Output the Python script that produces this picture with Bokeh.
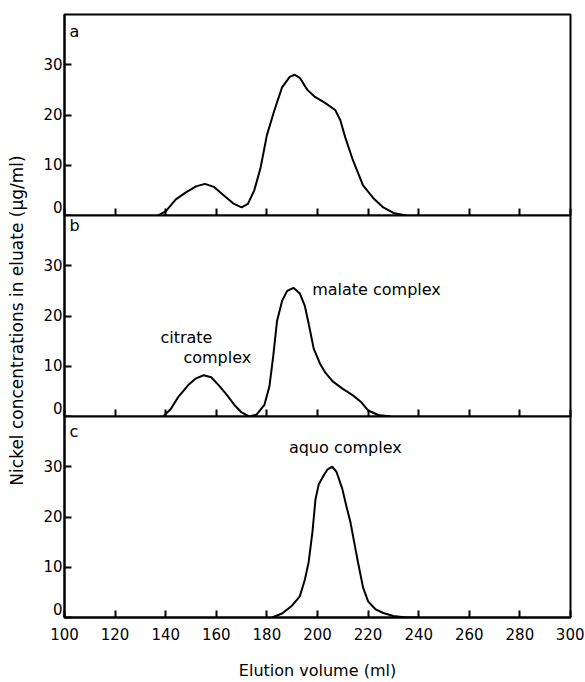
import numpy as np
from bokeh.plotting import figure
from bokeh.layouts import column, row
from bokeh.models import Range1d, FixedTicker, Label, CustomLabelingPolicy
from bokeh.embed import file_html
from bokeh.resources import INLINE

# ---- data ----
x_a = [137, 140, 144, 148, 152, 155.5, 159, 163, 167, 170, 172.5, 175, 177.5, 180, 183, 186,
       189, 191, 193, 196, 199, 203, 207, 209, 211, 214, 218, 222, 226, 230, 235]
y_a = [0, 0.8, 3.2, 4.6, 5.8, 6.3, 5.7, 4.0, 2.3, 1.6, 2.3, 5.0, 9.5, 16, 21, 25.5,
       27.6, 28, 27.4, 25, 23.6, 22.4, 21, 19, 15.5, 11, 6, 3.5, 1.6, 0.5, 0]

x_b = [139, 142, 145, 149, 152, 155, 158, 161, 164, 167, 170, 173, 176, 179, 181, 182.5, 184,
       186, 188, 190.5, 193, 195, 196.5, 198.5, 201, 203, 206, 210, 214, 217, 220, 224, 229]
y_b = [0, 1.5, 3.9, 6.3, 7.6, 8.2, 7.8, 6.2, 4.4, 2.4, 0.8, 0, 0.4, 2.3, 6, 12, 19,
       23, 25, 25.6, 24.5, 22, 18.5, 13.5, 10.5, 8.8, 7, 5.5, 4.2, 3.0, 1.2, 0.3, 0]

x_c = [182, 186, 190, 193, 195, 196.5, 198, 199.2, 200.5, 202.5, 204, 205.8, 207.5, 209.8,
       211.5, 213, 214.5, 216, 218, 220, 223, 226, 230, 235, 240]
y_c = [0, 0.8, 2.4, 4.2, 7.5, 11, 17, 23.5, 26.5, 28.3, 29.5, 30, 29, 25.6,
       22, 19, 15, 11, 6, 3.2, 1.6, 0.9, 0.3, 0, 0]

x_ticks = [100, 120, 140, 160, 180, 200, 220, 240, 260, 280, 300]
y_ticks = [0, 10, 20, 30]

panel_letters = ["a", "b", "c"]
x_label = "Elution volume (ml)"
y_label = "Nickel concentrations in eluate (\u03bcg/ml)"

FONT = "DejaVu Sans"
FW = 506
FH = 201
OVER = 16   # bottom room for the zero label, overlapped by the next panel

no_labels = CustomLabelingPolicy(code="return new Set()")


def make_panel(xs, ys, letter, letter_y, top, bottom):
    p = figure(output_backend="svg", toolbar_location=None,
               frame_width=FW, frame_height=FH,
               x_range=Range1d(100, 300), y_range=Range1d(0, 40),
               min_border_left=28, min_border_right=14,
               min_border_top=top, min_border_bottom=0 if bottom else OVER)
    p.grid.visible = False
    p.outline_line_color = "black"
    p.outline_line_width = 2
    p.outline_line_alpha = 1
    p.background_fill_color = "white"
    p.border_fill_color = None

    p.line(xs, ys, line_color="black", line_width=2)

    xa = p.xaxis[0]
    xa.ticker = FixedTicker(ticks=x_ticks, minor_ticks=[])
    xa.major_tick_in = 7
    xa.major_tick_out = 0
    xa.minor_tick_in = 0
    xa.minor_tick_out = 0
    xa.axis_line_width = 2
    xa.major_tick_line_width = 2
    xa.axis_line_color = "black"
    xa.major_tick_line_color = "black"
    if bottom:
        xa.major_label_text_font = FONT
        xa.major_label_text_font_size = "15px"
        xa.major_label_text_color = "black"
        xa.major_label_standoff = 10
        xa.axis_label = x_label
        xa.axis_label_text_font = FONT
        xa.axis_label_text_font_size = "16px"
        xa.axis_label_text_font_style = "normal"
        xa.axis_label_text_color = "black"
        xa.axis_label_standoff = 18
    else:
        xa.major_label_text_font_size = "0px"
        xa.major_label_standoff = 0
        xa.major_label_policy = no_labels

    ya = p.yaxis[0]
    ya.ticker = FixedTicker(ticks=y_ticks, minor_ticks=[])
    ya.major_tick_in = 7
    ya.major_tick_out = 0
    ya.minor_tick_in = 0
    ya.minor_tick_out = 0
    ya.axis_line_width = 2
    ya.major_tick_line_width = 2
    ya.axis_line_color = "black"
    ya.major_tick_line_color = "black"
    ya.major_label_text_font = FONT
    ya.major_label_text_font_size = "15px"
    ya.major_label_text_color = "black"
    ya.major_label_standoff = 2
    # the zero label sits just above the axis line, as in the reference
    ya.major_label_overrides = {y_ticks[0]: str(y_ticks[0]) + "\n"}
    ya.major_label_text_line_height = 0.8

    p.add_layout(Label(x=102, y=letter_y, text=letter, text_font=FONT,
                       text_font_size="16px", text_color="black",
                       text_baseline="alphabetic", text_align="left"))
    return p


pa = make_panel(x_a, y_a, panel_letters[0], 36.6, 14, False)
pb = make_panel(x_b, y_b, panel_letters[1], 38.0, 0, False)
pc = make_panel(x_c, y_c, panel_letters[2], 37.0, 0, True)
pb.margin = (-OVER, 0, 0, 0)
pc.margin = (-OVER, 0, 0, 0)


def note(p, x, y, t):
    p.add_layout(Label(x=x, y=y, text=t, text_font=FONT, text_font_size="16px",
                       text_color="black", text_baseline="alphabetic", text_align="left"))


note(pb, 137.9, 15.8, "citrate")
note(pb, 147.0, 11.8, "complex")
note(pb, 197.9, 25.2, "malate complex")
note(pc, 188.7, 33.8, "aquo complex")

H = 680
lab = figure(output_backend="svg", toolbar_location=None, width=36, height=H,
             x_range=Range1d(0, 36), y_range=Range1d(0, H),
             x_axis_type=None, y_axis_type=None, min_border=0)
lab.grid.visible = False
lab.outline_line_color = None
lab.background_fill_color = "white"
lab.border_fill_color = "white"
lab.add_layout(Label(x=16, y=H - 320, text=y_label, angle=np.pi / 2,
                     text_font=FONT, text_font_size="17px", text_color="black",
                     text_align="center", text_baseline="middle"))

layout = row(lab, column(pa, pb, pc, spacing=0), spacing=0)

open("out.html", "w").write(file_html(layout, INLINE))
